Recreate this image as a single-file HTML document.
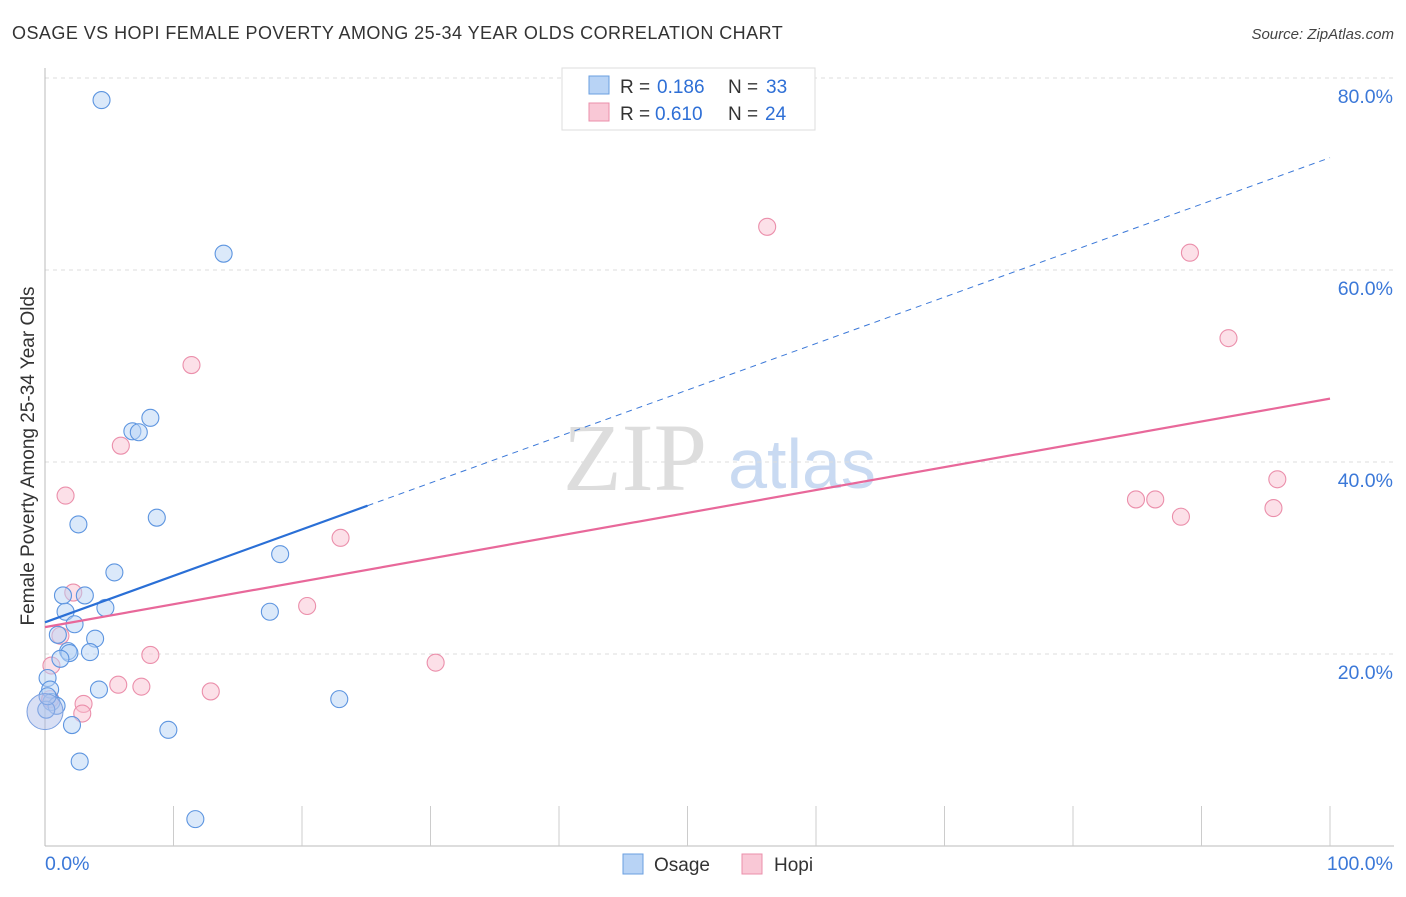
<!DOCTYPE html>
<html><head><meta charset="utf-8"><style>
body{margin:0;background:#fff;}
</style></head><body>
<svg id="chart" width="1406" height="892" xmlns="http://www.w3.org/2000/svg" font-family="Liberation Sans, sans-serif">
<text x="12" y="39" font-size="18" fill="#333" letter-spacing="0.45">OSAGE VS HOPI FEMALE POVERTY AMONG 25-34 YEAR OLDS CORRELATION CHART</text>
<text x="1394" y="39" font-size="15" fill="#444" text-anchor="end" font-style="italic">Source: ZipAtlas.com</text>
<text transform="translate(34,456) rotate(-90)" font-size="19" fill="#333" text-anchor="middle">Female Poverty Among 25-34 Year Olds</text>
<g>
<text x="635" y="490" font-size="96" fill="#ddd" text-anchor="middle" style="font-family:'Liberation Serif',serif">ZIP</text>
<text x="802" y="488" font-size="70" fill="#c9daf2" text-anchor="middle">atlas</text>
</g>
<g id="grid"></g><g id="axes"></g><g id="lines"></g><g id="pts"></g>
<g>
<rect x="562" y="68" width="253" height="62" fill="#fff" stroke="#ddd"/>
<rect x="589" y="76" width="20" height="18" fill="#b8d3f5" stroke="#6a9fe0"/>
<rect x="589" y="103" width="20" height="18" fill="#f9c8d6" stroke="#eb8fab"/>
<text x="620" y="93" font-size="19" fill="#333">R = </text><text x="657" y="93" font-size="19" fill="#2e6fd6">0.186</text>
<text x="728" y="93" font-size="19" fill="#333">N = </text><text x="766" y="93" font-size="19" fill="#2e6fd6">33</text>
<text x="620" y="120" font-size="19" fill="#333">R = </text><text x="655" y="120" font-size="19" fill="#2e6fd6">0.610</text>
<text x="728" y="120" font-size="19" fill="#333">N = </text><text x="765" y="120" font-size="19" fill="#2e6fd6">24</text>
</g>
<g>
<rect x="623" y="854" width="20" height="20" fill="#b8d3f5" stroke="#6a9fe0"/>
<text x="654" y="871" font-size="19" fill="#333">Osage</text>
<rect x="742" y="854" width="20" height="20" fill="#f9c8d6" stroke="#eb8fab"/>
<text x="774" y="871" font-size="19" fill="#333">Hopi</text>
</g>
</svg>
<script>
const yTicks=[20,40,60,80];
const yTickLabels=["20.0%","40.0%","60.0%","80.0%"];
const osageX=[4.4,13.9,8.2,6.8,7.3,8.7,2.6,5.4,18.3,1.4,3.1,4.7,1.6,17.5,2.3,1.0,3.9,1.8,1.9,3.5,1.2,0.2,0.4,4.2,0.5,0.9,22.9,0.1,2.1,9.6,2.7,11.7,0.2];
const osageY=[77.7,61.7,44.6,43.2,43.1,34.2,33.5,28.5,30.4,26.1,26.1,24.8,24.4,24.4,23.1,22.0,21.6,20.3,20.1,20.2,19.5,17.5,16.3,16.3,15.0,14.6,15.3,14.2,12.6,12.1,8.8,2.8,15.6];
const hopiX=[56.2,89.1,11.4,92.1,5.9,1.6,84.9,86.4,88.4,95.9,95.6,23.0,2.2,20.4,1.2,8.2,30.4,5.7,7.5,12.9,3.0,2.9,0.5,0.4];
const hopiY=[64.5,61.8,50.1,52.9,41.7,36.5,36.1,36.1,34.3,38.2,35.2,32.1,26.4,25.0,21.9,19.9,19.1,16.8,16.6,16.1,14.8,13.8,18.8,15.3];
const osageTrend=[23.3,71.7]; const osageSolidEnd=25.1;
const hopiTrend=[22.8,46.6];
const NS="http://www.w3.org/2000/svg";
const X=v=>45+v*12.85, Y=v=>846-v*9.6;
function mk(t,a,p){const e=document.createElementNS(NS,t);for(const k in a)e.setAttribute(k,a[k]);p.appendChild(e);return e;}
const grid=document.getElementById('grid'),axes=document.getElementById('axes'),lines=document.getElementById('lines'),pts=document.getElementById('pts');
yTicks.forEach((t,i)=>{
 const l=mk('line',{x1:45,x2:1394,y1:Y(t),y2:Y(t),stroke:'#ddd','stroke-dasharray':'4,4'},grid);
 
 
 const tx=mk('text',{x:1393,y:Y(t)+25,'font-size':19.5,fill:'#3b78d8','text-anchor':'end'},grid);tx.textContent=yTickLabels[i];
 
 
});
let a=mk('line',{x1:45,x2:45,y1:68,y2:846,stroke:'#bbb'},axes);


a=mk('line',{x1:45,x2:1394,y1:846,y2:846,stroke:'#bbb'},axes);


for(let i=1;i<=10;i++){const t=mk('line',{x1:X(i*10),x2:X(i*10),y1:806,y2:846,stroke:'#ccc'},axes);
 
 }
let t0=mk('text',{x:45,y:870,'font-size':19.5,fill:'#3b78d8'},axes);t0.textContent='0.0%';


let t1=mk('text',{x:1393,y:870,'font-size':19.5,fill:'#3b78d8','text-anchor':'end'},axes);t1.textContent='100.0%';


function dot(x,y,f,s,name){const c=mk('circle',{cx:X(x),cy:Y(y),r:8.5,fill:f,'fill-opacity':0.5,stroke:s,'stroke-width':1.1},pts);
 
 }
hopiX.forEach((x,i)=>dot(x,hopiY[i],'#f9c1d2','#eb8fab','hopi-point'));
osageX.forEach((x,i)=>dot(x,osageY[i],'#b8d3f5','#5d95e0','osage-point'));
const big=mk('circle',{cx:X(0),cy:Y(14),r:18,fill:'#a9b8e6','fill-opacity':0.45,stroke:'#7a9fe0'},pts);


const ot=x=>osageTrend[0]+(osageTrend[1]-osageTrend[0])*x/100;
const ht=x=>hopiTrend[0]+(hopiTrend[1]-hopiTrend[0])*x/100;
let l=mk('line',{x1:X(osageSolidEnd),y1:Y(ot(osageSolidEnd)),x2:X(100),y2:Y(ot(100)),stroke:'#3b78d8','stroke-dasharray':'6,5','stroke-width':1},lines);


l=mk('line',{x1:X(0),y1:Y(ht(0)),x2:X(100),y2:Y(ht(100)),stroke:'#e8689a','stroke-width':2.2},pts);


l=mk('line',{x1:X(0),y1:Y(ot(0)),x2:X(osageSolidEnd),y2:Y(ot(osageSolidEnd)),stroke:'#2a6fd6','stroke-width':2.2},pts);


</script>
</body></html>
